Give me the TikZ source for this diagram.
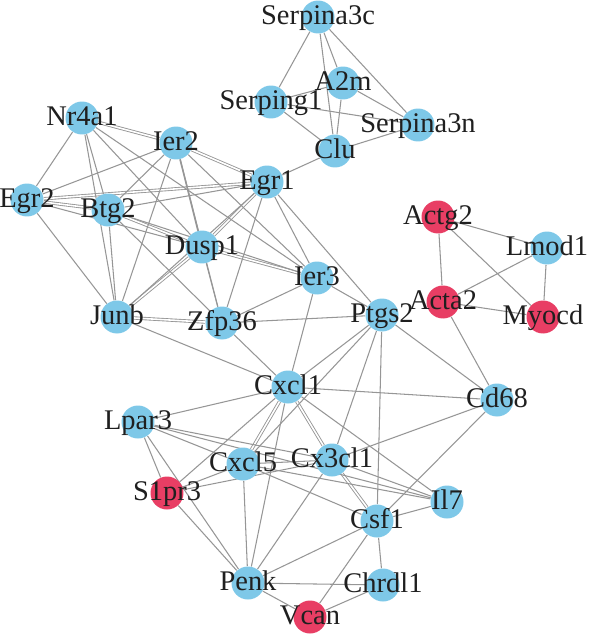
\documentclass[tikz,border=0pt]{standalone}
\usepackage{fontspec}
\setmainfont{Liberation Serif}
\usetikzlibrary{backgrounds}

\definecolor{geneblue}{RGB}{126,200,232}
\definecolor{genered}{RGB}{232,62,100}
\definecolor{linkgray}{RGB}{150,150,150}
\newcommand{\gn}[1]{\makebox[0pt]{\raisebox{-0.15cm}[0pt][0pt]{#1}}}

\begin{document}
\begin{tikzpicture}[x=0.02cm, y=-0.02cm, line cap=round, line join=round]

% --------- styles ----------
\tikzset{
  gene/.style={circle, fill=geneblue, minimum size=0.66cm, inner sep=0pt,
    font=\fontsize{16.2}{19}\selectfont, text=black!88},
  deg/.style={gene, fill=genered},
  lnk/.style={draw=linkgray, line width=0.6pt},
  lnk2/.style={lnk, double=white, double distance=0.9pt, line width=0.5pt}
}
\useasboundingbox (0,0) rectangle (600,635);

% ===================== genes =====================
% serpin / complement group
\node[gene] (serpina3c) at (318,17)  {\gn{Serpina3c}};
\node[gene] (a2m)       at (343,83)  {\gn{A2m}};
\node[gene] (serping1)  at (271,102) {\gn{Serping1}};
\node[gene] (serpina3n) at (418,125) {\gn{Serpina3n}};
\node[gene] (clu)       at (335,151) {\gn{Clu}};

% immediate early genes
\node[gene] (nr4a1) at (82,118)  {\gn{Nr4a1}};
\node[gene] (ier2)  at (176,143) {\gn{Ier2}};
\node[gene] (egr2)  at (27,200)  {\gn{Egr2}};
\node[gene] (btg2)  at (108,210) {\gn{Btg2}};
\node[gene] (egr1)  at (267,182) {\gn{Egr1}};
\node[gene] (dusp1) at (202,247) {\gn{Dusp1}};
\node[gene] (junb)  at (117,317) {\gn{Junb}};
\node[gene] (zfp36) at (222,323) {\gn{Zfp36}};
\node[gene] (ier3)  at (317,278) {\gn{Ier3}};
\node[gene] (ptgs2) at (382,315) {\gn{Ptgs2}};

% smooth muscle group
\node[deg]  (actg2) at (438,217) {\gn{Actg2}};
\node[gene] (lmod1) at (547,248) {\gn{Lmod1}};
\node[deg]  (acta2) at (443,302) {\gn{Acta2}};
\node[deg]  (myocd) at (543,317) {\gn{Myocd}};

% chemokine group
\node[gene] (cd68)   at (497,400) {\gn{Cd68}};
\node[gene] (cxcl1)  at (288,387) {\gn{Cxcl1}};
\node[gene] (lpar3)  at (138,422) {\gn{Lpar3}};
\node[gene] (cxcl5)  at (243,464) {\gn{Cxcl5}};
\node[gene] (cx3cl1) at (332,460) {\gn{Cx3cl1}};
\node[deg]  (s1pr3)  at (167,493) {\gn{S1pr3}};
\node[gene] (il7)    at (447,502) {\gn{Il7}};
\node[gene] (csf1)   at (377,521) {\gn{Csf1}};
\node[gene] (penk)   at (248,583) {\gn{Penk}};
\node[gene] (chrdl1) at (383,585) {\gn{Chrdl1}};
\node[deg]  (vcan)   at (310,617) {\gn{Vcan}};

% ===================== links =====================
\begin{scope}[on background layer]
  % serpin group
  \draw[lnk] (serpina3c) -- (serping1) (serpina3c) -- (a2m) (serpina3c) -- (clu)
    (serpina3c) -- (serpina3n) (a2m) -- (serping1) (a2m) -- (clu) (a2m) -- (serpina3n)
    (serping1) -- (serpina3n) (serping1) -- (clu) (clu) -- (serpina3n) (clu) -- (egr1);

  % smooth muscle group
  \draw[lnk] (actg2) -- (lmod1) (actg2) -- (acta2) (actg2) -- (myocd)
    (lmod1) -- (acta2) (lmod1) -- (myocd) (acta2) -- (myocd) (acta2) -- (cd68);

  % immediate early genes (double links first)
  \draw[lnk2] (nr4a1) -- (ier2) (ier2) -- (egr1) (egr2) -- (btg2) (egr2) -- (egr1)
    (btg2) -- (dusp1) (dusp1) -- (ier3) (dusp1) -- (egr1) (dusp1) -- (junb) (junb) -- (zfp36);
  \draw[lnk] (nr4a1) -- (egr2) (nr4a1) -- (btg2) (nr4a1) -- (junb) (nr4a1) -- (dusp1)
    (nr4a1) -- (ier3);
  \draw[lnk] (ier2) -- (egr2) (ier2) -- (btg2) (ier2) -- (junb) (ier2) -- (ier3)
    (ier2) -- (zfp36);
  \draw[lnk, line width=0.9pt] (ier2) -- (dusp1);
  \draw[lnk] (egr2) -- (junb) (egr2) -- (dusp1);
  \draw[lnk] (btg2) -- (egr1) (btg2) -- (junb) (btg2) -- (zfp36) (btg2) -- (ier3);
  \draw[lnk] (egr1) -- (junb) (egr1) -- (zfp36) (egr1) -- (ier3) (egr1) -- (ptgs2);
  \draw[lnk] (dusp1) -- (zfp36) (junb) -- (cxcl1);
  \draw[lnk] (zfp36) -- (ier3) (zfp36) -- (ptgs2) (zfp36) -- (cxcl1)
    (ier3) -- (ptgs2) (ier3) -- (cxcl1);

  % chemokine group
  \draw[lnk2] (cxcl1) -- (cxcl5) (cxcl1) -- (cx3cl1) (cx3cl1) -- (csf1);
  \draw[lnk] (cxcl1) -- (ptgs2) (cxcl1) -- (lpar3) (cxcl1) -- (s1pr3) (cxcl1) -- (penk)
    (cxcl1) -- (il7) (cxcl1) -- (cd68);
  \draw[lnk] (ptgs2) -- (cd68) (ptgs2) -- (cxcl5) (ptgs2) -- (cx3cl1) (ptgs2) -- (csf1);
  \draw[lnk] (lpar3) -- (s1pr3) (lpar3) -- (penk) (lpar3) -- (cxcl5) (lpar3) -- (cx3cl1)
    (lpar3) -- (il7);
  \draw[lnk] (s1pr3) -- (cxcl5) (s1pr3) -- (cx3cl1) (s1pr3) -- (penk);
  \draw[lnk] (cxcl5) -- (cx3cl1) (cxcl5) -- (csf1) (cxcl5) -- (il7) (cxcl5) -- (penk);
  \draw[lnk] (cx3cl1) -- (cd68) (cx3cl1) -- (il7) (cx3cl1) -- (penk);
  \draw[lnk] (csf1) -- (il7) (csf1) -- (cd68) (csf1) -- (chrdl1) (csf1) -- (vcan)
    (csf1) -- (penk);
  \draw[lnk] (chrdl1) -- (vcan) (chrdl1) -- (penk) (penk) -- (vcan);
\end{scope}

\end{tikzpicture}
\end{document}
